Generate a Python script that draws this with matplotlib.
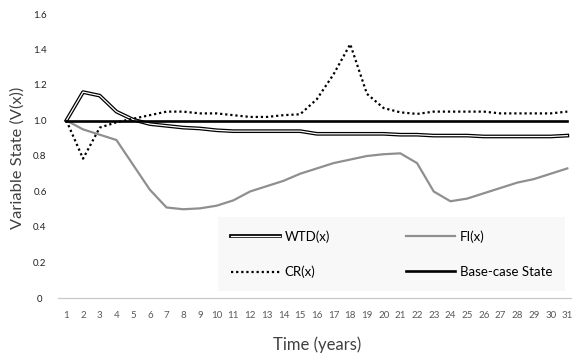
import matplotlib
matplotlib.use("Agg")
import matplotlib.pyplot as plt
import matplotlib.patheffects as pe

plt.rcParams['font.family'] = ['Lato', 'DejaVu Sans']

years = list(range(1, 32))
wtd = [1.0, 1.16, 1.14, 1.05, 1.005, 0.98, 0.97, 0.96, 0.955, 0.945, 0.94,
       0.94, 0.94, 0.94, 0.94, 0.925, 0.925, 0.925, 0.925, 0.925, 0.92,
       0.92, 0.915, 0.915, 0.915, 0.91, 0.91, 0.91, 0.91, 0.91, 0.915]
fi = [1.0, 0.95, 0.92, 0.89, 0.75, 0.61, 0.51, 0.50, 0.505, 0.52, 0.55,
      0.60, 0.63, 0.66, 0.70, 0.73, 0.76, 0.78, 0.80, 0.81, 0.815,
      0.76, 0.60, 0.545, 0.56, 0.59, 0.62, 0.65, 0.67, 0.70, 0.73]
cr = [1.0, 0.785, 0.96, 0.99, 1.01, 1.03, 1.05, 1.05, 1.04, 1.04, 1.03,
      1.02, 1.02, 1.03, 1.035, 1.12, 1.26, 1.43, 1.15, 1.07, 1.046,
      1.037, 1.05, 1.05, 1.05, 1.05, 1.04, 1.04, 1.04, 1.04, 1.05]
base = [1.0] * len(years)
yticks = [0, 0.2, 0.4, 0.6, 0.8, 1.0, 1.2, 1.4, 1.6]
ytick_labels = ['0', '0.2', '0.4', '0.6', '0.8', '1.0', '1.2', '1.4', '1.6']

fig = plt.figure(figsize=(5.72, 3.6), dpi=100)
ax = fig.add_axes([58 / 572, 1 - 298 / 360, 514 / 572, 284 / 360])

# double line: white core with a black outline
l_wtd, = ax.plot(years, wtd, color='white', lw=0.9, zorder=3,
                 path_effects=[pe.Stroke(linewidth=2.7, foreground='black'), pe.Normal()])
l_fi, = ax.plot(years, fi, color='#8f8f8f', lw=1.6, zorder=2)
l_cr, = ax.plot(years, cr, color='black', lw=1.6, linestyle=(0, (1, 1.3)), zorder=4)
l_base, = ax.plot(years, base, color='black', lw=1.9, zorder=5)

ax.set_xlim(0.5, 31.28)
ax.set_ylim(0, 1.6)
ax.set_xticks(years)
ax.set_xticklabels([str(y) for y in years], fontsize=7, color='#595959')
ax.set_yticks(yticks)
ax.set_yticklabels(ytick_labels, fontsize=7, color='#222222', ha='center')
ax.tick_params(axis='x', length=0, pad=9)
ax.tick_params(axis='y', length=0, pad=13)

for side in ['top', 'right', 'left']:
    ax.spines[side].set_visible(False)
ax.spines['bottom'].set_color('#c8c8c8')
ax.spines['bottom'].set_linewidth(0.9)

fig.text(317 / 572, 1 - 345 / 360, 'Time (years)', ha='center', va='center',
         fontsize=12, color='#404040')
fig.text(18 / 572, 1 - 158 / 360, 'Variable State (V(x))', ha='center', va='center',
         rotation=90, fontsize=11.8, color='#404040')

leg = ax.legend([l_wtd, l_cr, l_fi, l_base],
                ['WTD(x)', 'CR(x)', 'FI(x)', 'Base-case State'],
                ncol=2, loc='lower right', bbox_to_anchor=(1.0, 0.0),
                bbox_transform=ax.transAxes,
                fontsize=9.5, handlelength=3.7, handletextpad=0.35,
                columnspacing=5.8, labelspacing=1.75, borderpad=1.0,
                fancybox=False, frameon=True, facecolor='#f8f8f8',
                edgecolor='none', framealpha=1.0)

fig.savefig('out.png', dpi=100)
